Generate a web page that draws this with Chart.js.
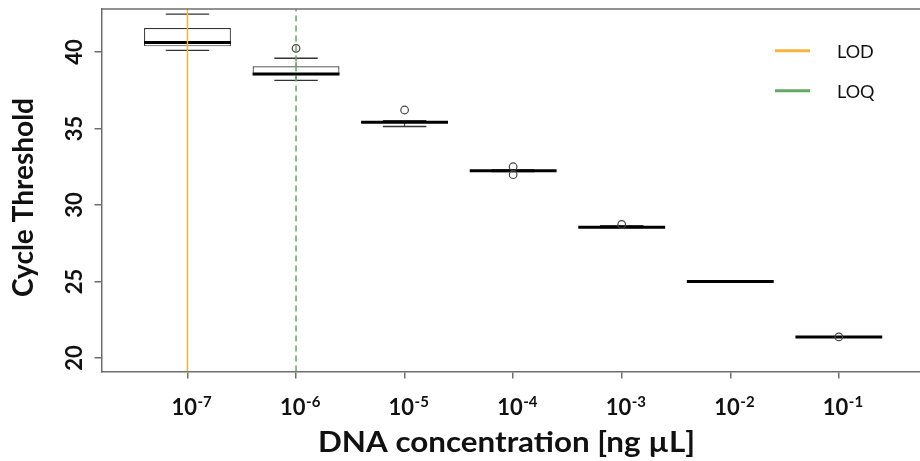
<!DOCTYPE html>
<html>
<head>
<meta charset="utf-8">
<script src="https://cdn.jsdelivr.net/npm/chart.js@4.4.0/dist/chart.umd.min.js"></script>
<style>
html,body{margin:0;padding:0;overflow:hidden;background:#fff;}
#wrap{width:930px;height:461px;}
</style>
</head>
<body>
<div id="wrap"><canvas id="ctChart" width="930" height="461" style="width:930px;height:461px"></canvas></div>
<script>
// dilution steps, plotted at positions 0..6
var EXPONENTS=['-7','-6','-5','-4','-3','-2','-1'];
var POSITIONS=[0,1,2,3,4,5,6];

// Ct box plot stats per dilution
var WHISKER_LOW =[40.11,38.15,35.13,32.18,28.52,24.98,21.35];
var Q1          =[40.37,38.48,35.36,32.21,28.53,24.99,21.36];
var MEDIAN      =[40.62,38.57,35.41,32.24,28.55,25.00,21.37];
var Q3          =[41.57,39.07,35.47,32.27,28.58,25.01,21.38];
var WHISKER_HIGH=[42.48,39.59,35.52,32.30,28.65,25.02,21.39];
var OUTLIERS    =[[],[40.24],[36.21],[32.50,31.98],[28.73],[],[21.38]];

var LOD_AT=0, LOQ_AT=1;
var Y_MIN=19.12, Y_MAX=42.81;

var FONT='Lato, "Open Sans", sans-serif';
var AXIS_GREY='#6e6e6e';
var ORANGE='#f6b43c';
var GREEN='#62a862';

var outlierPoints=[];
for(var i=0;i<OUTLIERS.length;i++){
    for(var j=0;j<OUTLIERS[i].length;j++){
        outlierPoints.push({x:POSITIONS[i],y:OUTLIERS[i][j]});
    }
}

function seg(ctx,x1,y1,x2,y2){
    ctx.beginPath();
    ctx.moveTo(x1,y1);
    ctx.lineTo(x2,y2);
    ctx.stroke();
}

// whiskers, caps and medians, drawn right after the boxes
var boxParts={
    id:'boxParts',
    afterDatasetDraw:function(chart,args){
        if(args.index!==0) return;
        var ctx=chart.ctx, y=chart.scales.y;
        var bars=args.meta.data;
        ctx.save();
        for(var i=0;i<bars.length;i++){
            var cx=bars[i].x, half=bars[i].width/2, cap=half/2;
            var yHi=y.getPixelForValue(WHISKER_HIGH[i]), yLo=y.getPixelForValue(WHISKER_LOW[i]);
            ctx.strokeStyle='#333';
            ctx.lineWidth=1;
            ctx.setLineDash([4,3]);
            seg(ctx,cx,y.getPixelForValue(Q3[i]),cx,yHi);
            seg(ctx,cx,y.getPixelForValue(Q1[i]),cx,yLo);
            ctx.setLineDash([]);
            ctx.lineWidth=1.3;
            seg(ctx,cx-cap,yHi,cx+cap,yHi);
            seg(ctx,cx-cap,yLo,cx+cap,yLo);
            ctx.strokeStyle='#000';
            ctx.lineWidth=3;
            var ym=y.getPixelForValue(MEDIAN[i]);
            seg(ctx,cx-half,ym,cx+half,ym);
        }
        ctx.restore();
    }
};

// labels, titles, top frame and legend
var decorations={
    id:'decorations',
    afterDraw:function(chart){
        var ctx=chart.ctx, a=chart.chartArea, x=chart.scales.x, y=chart.scales.y;
        ctx.save();
        ctx.strokeStyle=AXIS_GREY;
        ctx.lineWidth=1.5;
        seg(ctx,a.left,a.top,a.right,a.top);

        ctx.fillStyle='#111';
        ctx.textBaseline='alphabetic';
        // x tick labels 10^n
        for(var i=0;i<EXPONENTS.length;i++){
            var px=x.getPixelForValue(POSITIONS[i]);
            ctx.textAlign='left';
            ctx.font='bold 22px '+FONT;
            var wb=ctx.measureText('10').width;
            ctx.fillText('10',px-16,a.bottom+43.5);
            ctx.font='bold 15px '+FONT;
            ctx.fillText(EXPONENTS[i],px-16+wb+0.5,a.bottom+35.5);
        }
        // y tick labels, parallel to the axis
        ctx.font='bold 22px '+FONT;
        ctx.textAlign='center';
        y.ticks.forEach(function(t){
            ctx.save();
            ctx.translate(a.left-19.5,y.getPixelForValue(t.value));
            ctx.rotate(-Math.PI/2);
            ctx.fillText(String(t.value),0,0);
            ctx.restore();
        });
        // axis titles
        ctx.font='bold 28px '+FONT;
        var xTitle='DNA concentration [ng µL]';
        var stretch=377/ctx.measureText(xTitle).width;
        ctx.save();
        ctx.translate(506.5,452);
        ctx.scale(stretch,1);
        ctx.fillText(xTitle,0,0);
        ctx.restore();
        ctx.save();
        ctx.translate(33,197.5);
        ctx.rotate(-Math.PI/2);
        ctx.fillText('Cycle Threshold',0,0);
        ctx.restore();

        // legend
        var items=[chart.data.datasets[2],chart.data.datasets[3]];
        ctx.font='18px '+FONT;
        ctx.textAlign='left';
        ctx.textBaseline='middle';
        items.forEach(function(ds,k){
            var ly=50.7+k*40;
            ctx.strokeStyle=ds.borderColor;
            ctx.lineWidth=3;
            seg(ctx,775,ly,810,ly);
            ctx.fillStyle='#111';
            ctx.fillText(ds.label,837,ly+1);
        });
        ctx.restore();
    }
};

var ctx=document.getElementById('ctChart');
var ctChart=new Chart(ctx,{
    type:'bar',
    data:{
        datasets:[
            {
                label:'Ct',
                data:POSITIONS.map(function(p,i){ return {x:p,y:[Q1[i],Q3[i]]}; }),
                backgroundColor:'#ffffff',
                borderColor:'#333333',
                borderWidth:1.2,
                borderSkipped:false,
                categoryPercentage:1,
                barPercentage:0.8,
                order:5
            },
            {
                type:'scatter',
                label:'outliers',
                data:outlierPoints,
                pointStyle:'circle',
                pointRadius:3.8,
                borderColor:'#444444',
                backgroundColor:'rgba(0,0,0,0)',
                borderWidth:1.2,
                order:4
            },
            {
                type:'line',
                label:'LOD',
                data:[{x:LOD_AT,y:Y_MIN},{x:LOD_AT,y:Y_MAX}],
                borderColor:ORANGE,
                borderWidth:1.5,
                pointRadius:0,
                order:2
            },
            {
                type:'line',
                label:'LOQ',
                data:[{x:LOQ_AT,y:Y_MIN},{x:LOQ_AT,y:Y_MAX}],
                borderColor:GREEN,
                borderWidth:1.5,
                borderDash:[6,4],
                pointRadius:0,
                order:1
            }
        ]
    },
    options:{
        responsive:false,
        animation:false,
        devicePixelRatio:1,
        layout:{padding:{top:9,left:0,right:0,bottom:0}},
        plugins:{legend:{display:false},tooltip:{enabled:false}},
        scales:{
            x:{
                type:'linear',
                min:-0.792,
                max:6.792,
                offset:false,
                ticks:{display:false,stepSize:1,includeBounds:false},
                grid:{offset:false,drawOnChartArea:false,drawTicks:true,tickLength:7,color:AXIS_GREY,lineWidth:1.5},
                border:{color:AXIS_GREY,width:1.5},
                afterFit:function(s){ s.height=89.5; }
            },
            y:{
                min:Y_MIN,
                max:Y_MAX,
                ticks:{display:false,stepSize:5,includeBounds:false},
                grid:{drawOnChartArea:false,drawTicks:true,tickLength:7,color:AXIS_GREY,lineWidth:1.5},
                border:{color:AXIS_GREY,width:1.5},
                afterFit:function(s){ s.width=101.5; }
            }
        }
    },
    plugins:[boxParts,decorations]
});
</script>
</body>
</html>
